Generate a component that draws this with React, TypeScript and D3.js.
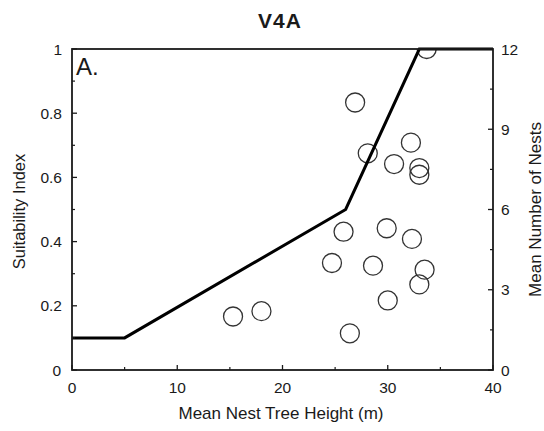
import React from "react";
import * as d3 from "d3";

const siCurveX = [0, 5, 26, 33, 40];
const siCurveY = [0.1, 0.1, 0.5, 1, 1];
const nestHeight = [26.9, 28.1, 32.2, 30.6, 33.0, 33.0, 25.8, 29.9, 32.3, 24.7, 28.6, 33.5, 33.0, 30.0, 15.3, 18.0, 26.4, 33.7];
const nestCount = [10.0, 8.1, 8.5, 7.7, 7.55, 7.3, 5.17, 5.3, 4.9, 4.0, 3.9, 3.75, 3.2, 2.6, 2.0, 2.2, 1.37, 12.0];
const xTicks = [0, 10, 20, 30, 40];
const xMinor = [5, 15, 25, 35];
const leftTicks = [0, 0.2, 0.4, 0.6, 0.8, 1];
const leftMinor = [0.1, 0.3, 0.5, 0.7, 0.9];
const rightTicks = [0, 3, 6, 9, 12];
const rightMinor = [1.5, 4.5, 7.5, 10.5];

const W = 544, H = 431;
const L = 72, R = 493, T = 49, B = 370;
const FONT = "'Liberation Sans', Arial, sans-serif";

export default function App() {
  const x = d3.scaleLinear().domain([0, 40]).range([L, R]);
  const yL = d3.scaleLinear().domain([0, 1]).range([B, T]);
  const yR = d3.scaleLinear().domain([0, 12]).range([B, T]);
  const line = d3.line<number>().x((_, i) => x(siCurveX[i])).y((d) => yL(d));
  const midY = (T + B) / 2;
  const ink = "#1a1a1a";
  return (
    <svg width={W} height={H} style={{ position: "absolute", left: 0, top: 0, background: "#fff" }}>
      <defs>
        <clipPath id="plot"><rect x={L} y={T} width={R - L} height={B - T} /></clipPath>
      </defs>
      <text x={280} y={28} textAnchor="middle" fontFamily={FONT} fontWeight="bold" fontSize={21} letterSpacing={1} fill={ink}>V4A</text>
      <g clipPath="url(#plot)">
        {nestHeight.map((h, i) => (
          <circle key={i} cx={x(h)} cy={yR(nestCount[i])} r={9.5} fill="none" stroke="#333" strokeWidth={1.3} />
        ))}
      </g>
      <path d={line(siCurveY) || ""} fill="none" stroke="#000" strokeWidth={3} strokeLinejoin="miter" />
      <rect x={L} y={T} width={R - L} height={B - T} fill="none" stroke={ink} strokeWidth={1.8} />
      {xTicks.map((t) => (
        <g key={"x" + t}>
          <line x1={x(t)} x2={x(t)} y1={B} y2={B - 5} stroke={ink} strokeWidth={1.3} />
          <text x={x(t)} y={393} textAnchor="middle" fontFamily={FONT} fontSize={15.5} fill={ink}>{t}</text>
        </g>
      ))}
      {xMinor.map((t) => (
        <line key={"xm" + t} x1={x(t)} x2={x(t)} y1={B} y2={B - 3} stroke={ink} strokeWidth={1.2} />
      ))}
      {leftTicks.map((t) => (
        <g key={"l" + t}>
          <line x1={L} x2={L + 5} y1={yL(t)} y2={yL(t)} stroke={ink} strokeWidth={1.3} />
          <text x={t === 0 ? 61 : 62} y={yL(t) + 5.5} textAnchor="end" fontFamily={FONT} fontSize={15.5} fill={ink}>{t}</text>
        </g>
      ))}
      {leftMinor.map((t) => (
        <line key={"lm" + t} x1={L} x2={L + 3} y1={yL(t)} y2={yL(t)} stroke={ink} strokeWidth={1.2} />
      ))}
      {rightTicks.map((t) => (
        <g key={"r" + t}>
          <line x1={R} x2={R - 5} y1={yR(t)} y2={yR(t)} stroke={ink} strokeWidth={1.3} />
          <text x={501} y={yR(t) + 5.5} textAnchor="start" fontFamily={FONT} fontSize={15.5} fill={ink}>{t}</text>
        </g>
      ))}
      {rightMinor.map((t) => (
        <line key={"rm" + t} x1={R} x2={R - 3} y1={yR(t)} y2={yR(t)} stroke={ink} strokeWidth={1.2} />
      ))}
      <text x={76} y={75} fontFamily={FONT} fontSize={24} fill={ink}>A.</text>
      <text x={281} y={419} textAnchor="middle" fontFamily={FONT} fontSize={17} fill={ink}>Mean Nest Tree Height (m)</text>
      <text transform={`translate(25,${midY + 2}) rotate(-90)`} textAnchor="middle" fontFamily={FONT} fontSize={16.5} fill={ink}>Suitability Index</text>
      <text transform={`translate(541,${midY}) rotate(-90)`} textAnchor="middle" fontFamily={FONT} fontSize={17} fill={ink}>Mean Number of Nests</text>
    </svg>
  );
}
